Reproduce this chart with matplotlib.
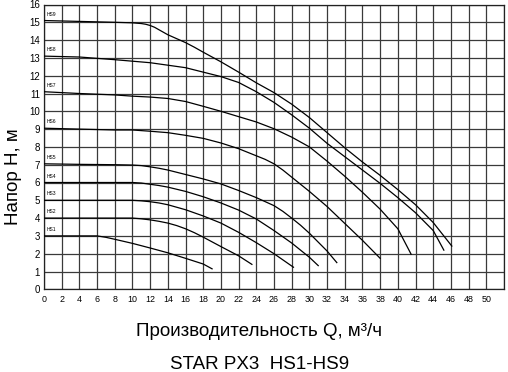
import matplotlib
matplotlib.use("Agg")
import matplotlib.pyplot as plt

plt.rcParams['font.family'] = ['Liberation Sans', 'DejaVu Sans']

# Curve data (Q in m3/h, H in m)
hs1_q = [0, 4, 6, 7, 8, 10, 12, 14, 16, 18, 19]
hs1_h = [3.0, 3.0, 3.0, 2.92, 2.81, 2.58, 2.32, 2.05, 1.74, 1.42, 1.15]

hs2_q = [0, 4, 8, 10, 11, 12, 13, 14, 15, 16, 17, 18, 20, 22, 23.5]
hs2_h = [4.0, 4.0, 4.0, 4.0, 3.96, 3.9, 3.82, 3.72, 3.58, 3.4, 3.18, 2.93, 2.4, 1.88, 1.4]

hs3_q = [0, 4, 8, 10, 11, 12, 13, 14, 16, 18, 20, 22, 24, 26, 28.2]
hs3_h = [5.0, 5.0, 5.0, 5.0, 4.97, 4.92, 4.85, 4.75, 4.47, 4.12, 3.72, 3.2, 2.62, 2.0, 1.24]

hs4_q = [0, 4, 8, 10, 11, 12, 13, 14, 16, 18, 20, 22, 24, 26, 28, 30, 31]
hs4_h = [6.0, 6.0, 6.0, 6.0, 5.97, 5.9, 5.83, 5.74, 5.5, 5.2, 4.85, 4.45, 3.95, 3.3, 2.6, 1.8, 1.33]

hs5_q = [0, 4, 8, 10, 11, 12, 13, 14, 16, 18, 20, 22, 24, 26, 27, 28, 29, 30, 31, 32, 33.1]
hs5_h = [7.05, 7.02, 7.0, 6.98, 6.95, 6.88, 6.8, 6.7, 6.45, 6.2, 5.92, 5.55, 5.15, 4.7, 4.38, 4.0, 3.6, 3.15, 2.65, 2.15, 1.5]

hs6_q = [0, 4, 8, 10, 12, 14, 16, 18, 20, 22, 24, 25, 26, 27, 28, 30, 32, 34, 36, 38]
hs6_h = [9.05, 9.0, 8.95, 8.95, 8.88, 8.8, 8.65, 8.48, 8.22, 7.9, 7.5, 7.3, 7.05, 6.7, 6.3, 5.5, 4.65, 3.7, 2.75, 1.74]

hs7_q = [0, 4, 8, 10, 12, 14, 16, 18, 20, 22, 24, 26, 28, 30, 32, 34, 36, 38, 40, 41.5]
hs7_h = [11.1, 11.0, 10.92, 10.85, 10.8, 10.72, 10.55, 10.28, 10.0, 9.7, 9.4, 9.02, 8.55, 8.0, 7.2, 6.35, 5.45, 4.5, 3.4, 1.97]

hs8_q = [0, 4, 8, 12, 16, 20, 22, 24, 26, 28, 30, 32, 34, 36, 38, 40, 42, 44, 45.2]
hs8_h = [13.1, 13.05, 12.9, 12.73, 12.45, 11.95, 11.62, 11.1, 10.5, 9.8, 9.05, 8.2, 7.45, 6.7, 5.95, 5.15, 4.3, 3.3, 2.2]

hs9_q = [0, 4, 8, 10, 11, 11.5, 12, 12.5, 13, 13.5, 14, 15, 16, 17, 18, 19, 20, 22, 24, 26, 28, 30, 32, 34, 36, 38, 40, 42, 44, 46.1]
hs9_h = [15.1, 15.05, 15.0, 14.97, 14.93, 14.89, 14.82, 14.72, 14.58, 14.44, 14.3, 14.08, 13.86, 13.6, 13.32, 13.05, 12.78, 12.2, 11.6, 11.05, 10.4, 9.65, 8.8, 7.95, 7.15, 6.4, 5.6, 4.75, 3.75, 2.43]

curve_names = ["HS1", "HS2", "HS3", "HS4", "HS5", "HS6", "HS7", "HS8", "HS9"]
curves_q = [hs1_q, hs2_q, hs3_q, hs4_q, hs5_q, hs6_q, hs7_q, hs8_q, hs9_q]
curves_h = [hs1_h, hs2_h, hs3_h, hs4_h, hs5_h, hs6_h, hs7_h, hs8_h, hs9_h]

x_ticks = list(range(0, 53, 2))
x_labels = [str(v) if v <= 50 else "" for v in x_ticks]
y_ticks = list(range(0, 17))

fig = plt.figure(figsize=(5.08, 3.72), dpi=100)
ax = fig.add_axes([44/508, 1-289.3/372, 460/508, 284.8/372])

for q, h, name in zip(curves_q, curves_h, curve_names):
    ax.plot(q, h, color='black', lw=0.9, solid_joinstyle='round', zorder=3)
    ax.text(0.35, h[0] + 0.22, name, fontsize=3.6, color='black', ha='left', va='bottom', zorder=4)

ax.set_xlim(0, 52)
ax.set_ylim(0, 16)
ax.set_xticks(x_ticks, labels=x_labels)
ax.set_yticks(y_ticks)
ax.tick_params(axis='both', which='both', length=0)
ax.tick_params(axis='x', labelsize=6.4, pad=4)
ax.tick_params(axis='y', labelsize=7, pad=3)
ax.grid(True, which='major', color='#3a3a3a', lw=0.9)
for s in ax.spines.values():
    s.set_color('#222222')
    s.set_linewidth(0.9)

fig.text(0.026, 0.525, "Напор H, м", rotation=90, fontsize=13.5, ha='center', va='center')
fig.text(0.51, 0.11, "Производительность Q, м³/ч", fontsize=13.5, ha='center', va='center')
fig.text(0.51, 0.02, "STAR PX3  HS1-HS9", fontsize=13.5, ha='center', va='center')

fig.savefig("out.png", dpi=100)
